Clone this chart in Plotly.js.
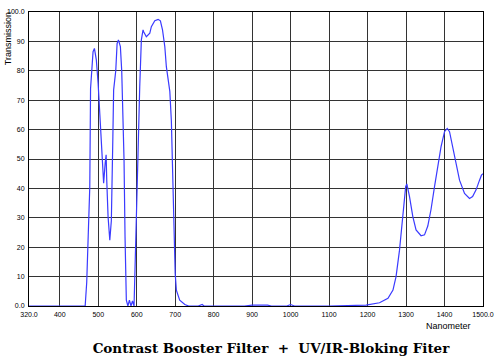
<!DOCTYPE html>
<html>
<head>
<meta charset="utf-8">
<script src="https://cdn.plot.ly/plotly-3.0.1.min.js"></script>
<style>html,body{margin:0;padding:0;background:#fff;}#chart{width:500px;height:362px;}</style>
</head>
<body>
<div id="chart"></div>
<script>
const wavelength = [320,400,460,466,470,473,476,478,480,483,486.5,490,495,499.6,504,508,511,514,518,520.5,522,525.5,530,534,538,540,545.5,549,552.5,557.5,561,564.4,567,569.6,571.4,573,577,581,585,589,593,595.6,599,603.4,607.8,612,616.4,618,625,634,638,647,655.6,661.5,667,673,677,682,686,690,694,697,700,703,711.7,725,735,760,770,775,785,880,900,940,950,990,1000,1010,1100,1196,1231,1253,1266,1274,1283,1292,1299,1302,1309,1317.6,1326,1339,1348,1356.5,1365,1374,1382.5,1391,1400,1407,1413,1421.5,1430,1439,1452,1465,1473,1482,1491,1496,1500];
const transmission = [0,0,0,0,8,18,30,40.6,74,80,86.5,87.6,83.7,75.8,65.6,54,47.4,41.8,48.6,51.4,43,30.4,22.4,29,57.6,73.5,80,89.3,90.5,88.2,80,63,49.7,23.6,8.8,2,0,2,0,1.7,0,11.2,29,52,74.6,90.5,93.9,93.3,91.6,92.8,95,97,97.5,97,93.9,88.2,81.4,75.7,73,63,40.6,18,11,5.4,2,0.5,0,0,0.5,0,0,0,0.3,0.3,0,0,0.5,0,0,0.3,1.1,2.6,5.4,10,19,30.4,40.6,41.5,37.2,30.4,25.9,23.9,24.2,27.2,32.9,40.6,47.4,54.2,59.3,60.4,59.3,54.2,48.5,42.8,38.3,36.6,37.2,39.5,42.8,44.5,45];
const xTickVals = [320,400,500,600,700,800,900,1000,1100,1200,1300,1400,1500];
const xTickText = ["320.0","400","500","600","700","800","900","1000","1100","1200","1300","1400","1500.0"];
const yTickVals = [0,10,20,30,40,50,60,70,80,90,100];
const yTickText = ["0.0","10","20","30","40","50","60","70","80","90","100.0"];
const titleText = "Contrast Booster Filter\u00a0\u00a0+\u00a0\u00a0UV/IR-Bloking Fiter";

const tickFont = {family: "Liberation Sans, Arial, sans-serif", size: 7, color: "#000"};

Plotly.newPlot("chart", [{
  x: wavelength, y: transmission, type: "scatter", mode: "lines",
  line: {color: "#3a3aff", width: 1.2}, hoverinfo: "skip"
}], {
  width: 500, height: 362,
  margin: {l: 29, r: 17, t: 12, b: 56},
  paper_bgcolor: "#fff", plot_bgcolor: "#fff",
  showlegend: false,
  title: {text: titleText, font: {family: "DejaVu Serif, serif", size: 13.5, color: "#000", weight: 600},
          x: 0.533, xanchor: "center", y: 1 - 348/362, yanchor: "middle", xref: "paper", yref: "container"},
  xaxis: {range: [320, 1500], tickvals: xTickVals, ticktext: xTickText, tickfont: tickFont,
          showgrid: true, gridcolor: "#333", gridwidth: 1, zeroline: false,
          showline: true, linecolor: "#000", linewidth: 1, mirror: true, ticks: "", ticklabelstandoff: 2},
  yaxis: {range: [0, 100], tickvals: yTickVals, ticktext: yTickText, tickfont: tickFont,
          showgrid: true, gridcolor: "#333", gridwidth: 1, zeroline: false,
          showline: true, linecolor: "#000", linewidth: 1, mirror: true, ticks: "", ticklabelstandoff: 2},
  annotations: [
    {text: "Transmission", xref: "paper", yref: "paper", x: -0.046, y: 0.908, textangle: -90,
     showarrow: false, xanchor: "center", yanchor: "middle", font: {family: "Liberation Sans, Arial, sans-serif", size: 9, color: "#000"}},
    {text: "Nanometer", xref: "paper", yref: "paper", x: 0.923, y: -0.068,
     showarrow: false, xanchor: "center", yanchor: "middle", font: {family: "Liberation Sans, Arial, sans-serif", size: 9, color: "#000"}}
  ]
}, {staticPlot: true, displayModeBar: false});
</script>
</body>
</html>
